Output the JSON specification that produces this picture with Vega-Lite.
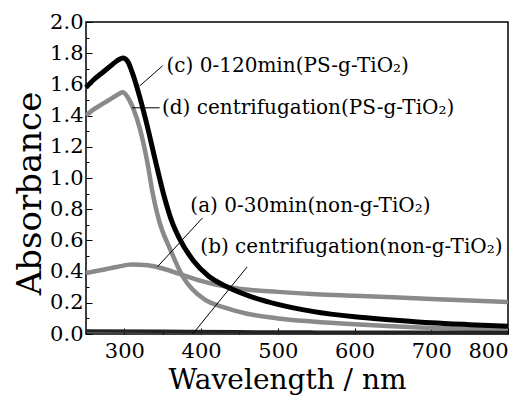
{
  "$schema": "https://vega.github.io/schema/vega-lite/v6.json",
  "width": 422,
  "height": 312,
  "autosize": {"type": "none"},
  "padding": {"left": 86, "top": 22, "right": 20, "bottom": 67},
  "background": "white",
  "config": {
    "view": {"stroke": "black", "strokeWidth": 1.5},
    "font": "DejaVu Serif",
    "axis": {
      "labelFont": "DejaVu Serif",
      "titleFont": "DejaVu Serif",
      "labelColor": "black",
      "titleColor": "black",
      "titleFontWeight": "normal",
      "domain": false,
      "grid": false,
      "tickColor": "black",
      "tickWidth": 1
    }
  },
  "datasets": {
    "spectra": [
      {"s": "c", "wl": 250, "A": 1.58}, {"s": "c", "wl": 260, "A": 1.63}, {"s": "c", "wl": 270, "A": 1.67},
      {"s": "c", "wl": 280, "A": 1.71}, {"s": "c", "wl": 290, "A": 1.75}, {"s": "c", "wl": 298, "A": 1.77},
      {"s": "c", "wl": 304, "A": 1.75}, {"s": "c", "wl": 310, "A": 1.68}, {"s": "c", "wl": 320, "A": 1.52},
      {"s": "c", "wl": 330, "A": 1.33}, {"s": "c", "wl": 340, "A": 1.12}, {"s": "c", "wl": 352, "A": 0.88},
      {"s": "c", "wl": 362, "A": 0.72}, {"s": "c", "wl": 372, "A": 0.61}, {"s": "c", "wl": 390, "A": 0.47},
      {"s": "c", "wl": 410, "A": 0.37}, {"s": "c", "wl": 435, "A": 0.3}, {"s": "c", "wl": 465, "A": 0.24},
      {"s": "c", "wl": 500, "A": 0.19}, {"s": "c", "wl": 545, "A": 0.145}, {"s": "c", "wl": 600, "A": 0.11},
      {"s": "c", "wl": 650, "A": 0.09}, {"s": "c", "wl": 700, "A": 0.072}, {"s": "c", "wl": 750, "A": 0.06},
      {"s": "c", "wl": 800, "A": 0.05},
      {"s": "d", "wl": 250, "A": 1.4}, {"s": "d", "wl": 260, "A": 1.44}, {"s": "d", "wl": 270, "A": 1.47},
      {"s": "d", "wl": 280, "A": 1.5}, {"s": "d", "wl": 290, "A": 1.53}, {"s": "d", "wl": 298, "A": 1.55},
      {"s": "d", "wl": 304, "A": 1.52}, {"s": "d", "wl": 312, "A": 1.44}, {"s": "d", "wl": 320, "A": 1.32},
      {"s": "d", "wl": 330, "A": 1.1}, {"s": "d", "wl": 337, "A": 0.9}, {"s": "d", "wl": 345, "A": 0.73},
      {"s": "d", "wl": 360, "A": 0.54}, {"s": "d", "wl": 376, "A": 0.37}, {"s": "d", "wl": 388, "A": 0.29},
      {"s": "d", "wl": 405, "A": 0.22}, {"s": "d", "wl": 430, "A": 0.17}, {"s": "d", "wl": 460, "A": 0.13},
      {"s": "d", "wl": 500, "A": 0.1}, {"s": "d", "wl": 545, "A": 0.08}, {"s": "d", "wl": 600, "A": 0.062},
      {"s": "d", "wl": 685, "A": 0.042}, {"s": "d", "wl": 800, "A": 0.03},
      {"s": "a", "wl": 250, "A": 0.39}, {"s": "a", "wl": 270, "A": 0.41}, {"s": "a", "wl": 290, "A": 0.43},
      {"s": "a", "wl": 310, "A": 0.445}, {"s": "a", "wl": 330, "A": 0.44}, {"s": "a", "wl": 350, "A": 0.42},
      {"s": "a", "wl": 375, "A": 0.38}, {"s": "a", "wl": 400, "A": 0.34}, {"s": "a", "wl": 425, "A": 0.31},
      {"s": "a", "wl": 450, "A": 0.29}, {"s": "a", "wl": 500, "A": 0.27}, {"s": "a", "wl": 550, "A": 0.255},
      {"s": "a", "wl": 600, "A": 0.245}, {"s": "a", "wl": 650, "A": 0.235}, {"s": "a", "wl": 700, "A": 0.225},
      {"s": "a", "wl": 750, "A": 0.215}, {"s": "a", "wl": 800, "A": 0.205},
      {"s": "b", "wl": 250, "A": 0.02}, {"s": "b", "wl": 350, "A": 0.017}, {"s": "b", "wl": 450, "A": 0.014},
      {"s": "b", "wl": 550, "A": 0.012}, {"s": "b", "wl": 650, "A": 0.011}, {"s": "b", "wl": 800, "A": 0.01}
    ],
    "leaders": [
      {"k": "c", "wl": 320, "A": 1.59, "wl2": 350, "A2": 1.72},
      {"k": "d", "wl": 310, "A": 1.45, "wl2": 346, "A2": 1.45},
      {"k": "a", "wl": 343, "A": 0.43, "wl2": 402, "A2": 0.745},
      {"k": "b", "wl": 389, "A": 0.0, "wl2": 460, "A2": 0.43}
    ],
    "labels": [
      {"t": "(c) 0-120min(PS-g-TiO₂)", "wl": 355, "A": 1.72},
      {"t": "(d) centrifugation(PS-g-TiO₂)", "wl": 349, "A": 1.45},
      {"t": "(a) 0-30min(non-g-TiO₂)", "wl": 386, "A": 0.82},
      {"t": "(b) centrifugation(non-g-TiO₂)", "wl": 399, "A": 0.56}
    ]
  },
  "encoding": {
    "x": {
      "field": "wl", "type": "quantitative",
      "scale": {"domain": [250, 800], "nice": false, "zero": false},
      "axis": {
        "title": "Wavelength / nm",
        "values": [250, 300, 350, 400, 450, 500, 550, 600, 650, 700, 750, 800],
        "labelExpr": "datum.value % 100 === 0 ? datum.label : ''",
        "tickSize": {"condition": {"test": "datum.value % 100 === 0", "value": -6}, "value": -3},
        "labelPadding": 12,
        "labelFontSize": 21,
        "titleFontSize": 28,
        "titlePadding": 5,
        "titleX": 201
      }
    },
    "y": {
      "field": "A", "type": "quantitative",
      "scale": {"domain": [0, 2], "nice": false},
      "axis": {
        "title": "Absorbance",
        "values": [0, 0.1, 0.2, 0.3, 0.4, 0.5, 0.6, 0.7, 0.8, 0.9, 1.0, 1.1, 1.2, 1.3, 1.4, 1.5, 1.6, 1.7, 1.8, 1.9, 2.0],
        "labelExpr": "round(datum.value * 10) % 2 === 0 ? format(datum.value, '.1f') : ''",
        "tickSize": {"condition": {"test": "round(datum.value * 10) % 2 === 0", "value": -6}, "value": -3},
        "labelPadding": 9,
        "labelFontSize": 21,
        "titleFontSize": 34,
        "titlePadding": 2,
        "titleY": 171
      }
    }
  },
  "layer": [
    {
      "data": {"name": "spectra"},
      "transform": [{"filter": "datum.s === 'a' || datum.s === 'd'"}],
      "mark": {"type": "line", "color": "#8a8a8a", "strokeWidth": 4.5, "interpolate": "monotone"},
      "encoding": {"detail": {"field": "s"}}
    },
    {
      "data": {"name": "spectra"},
      "transform": [{"filter": "datum.s === 'c'"}],
      "mark": {"type": "line", "color": "black", "strokeWidth": 5, "interpolate": "monotone"},
      "encoding": {}
    },
    {
      "data": {"name": "spectra"},
      "transform": [{"filter": "datum.s === 'b'"}],
      "mark": {"type": "line", "color": "#222", "strokeWidth": 3.5, "interpolate": "monotone"},
      "encoding": {}
    },
    {
      "data": {"name": "leaders"},
      "mark": {"type": "rule", "color": "black", "strokeWidth": 1},
      "encoding": {
        "x2": {"field": "wl2"},
        "y2": {"field": "A2"}
      }
    },
    {
      "data": {"name": "labels"},
      "mark": {"type": "text", "align": "left", "baseline": "middle", "fontSize": 20, "color": "black"},
      "encoding": {"text": {"field": "t"}}
    }
  ]
}
